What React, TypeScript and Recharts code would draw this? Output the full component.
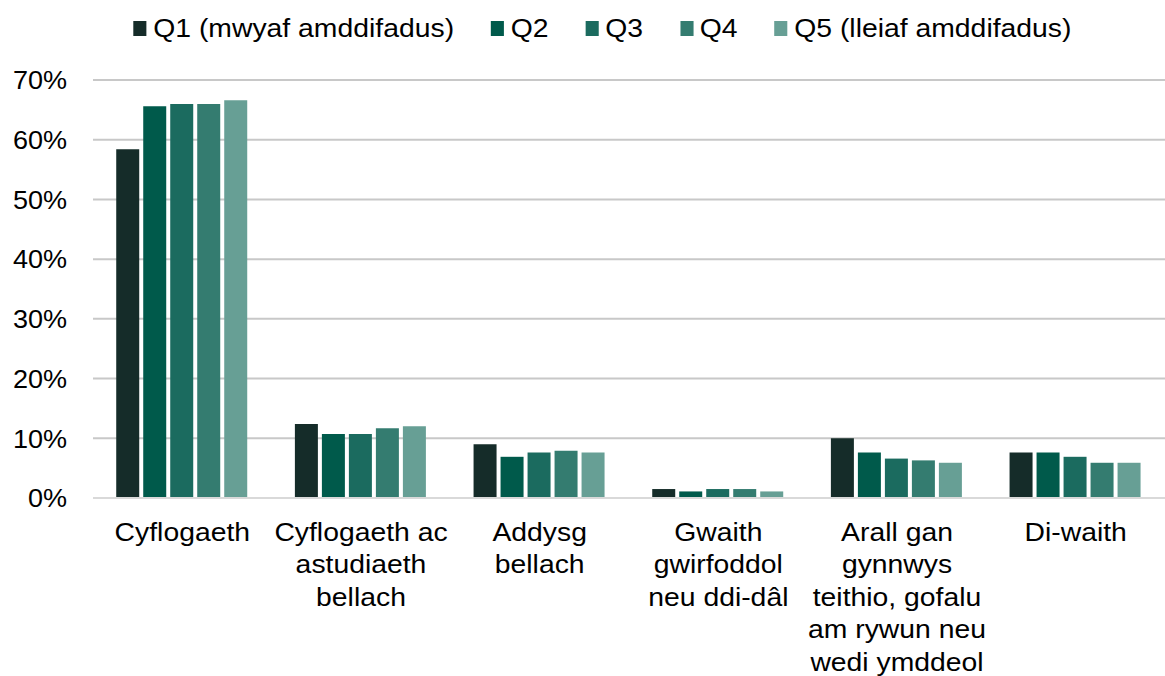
import React from "react";
import { BarChart, Bar, XAxis, YAxis, CartesianGrid, Legend } from "recharts";

const categories: string[][] = [
  ["Cyflogaeth"],
  ["Cyflogaeth ac", "astudiaeth", "bellach"],
  ["Addysg", "bellach"],
  ["Gwaith", "gwirfoddol", "neu ddi-dâl"],
  ["Arall gan", "gynnwys", "teithio, gofalu", "am rywun neu", "wedi ymddeol"],
  ["Di-waith"],
];

const q1 = [58.4, 12.4, 9.0, 1.5, 10.0, 7.6];
const q2 = [65.6, 10.7, 6.9, 1.1, 7.6, 7.6];
const q3 = [66.0, 10.7, 7.6, 1.5, 6.6, 6.9];
const q4 = [66.0, 11.7, 7.9, 1.5, 6.3, 5.9];
const q5 = [66.6, 12.0, 7.6, 1.1, 5.9, 5.9];

const seriesNames = ["Q1 (mwyaf amddifadus)", "Q2", "Q3", "Q4", "Q5 (lleiaf amddifadus)"];
const seriesKeys = ["q1", "q2", "q3", "q4", "q5"];
const colors = ["#152c29", "#005a4b", "#1b6b5f", "#347c70", "#679f95"];
const yTicks = [0, 10, 20, 30, 40, 50, 60, 70];

const data = categories.map((lines, i) => ({
  name: lines.join(" "),
  lines,
  q1: q1[i],
  q2: q2[i],
  q3: q3[i],
  q4: q4[i],
  q5: q5[i],
}));

const FONT = "'Liberation Sans', Arial, sans-serif";
const SX = 1.09;

const CategoryTick = (props: any) => {
  const { x, y, payload } = props;
  const lines = categories[payload.index] || [payload.value];
  return (
    <g transform={`translate(${x},${y + 43}) scale(${SX},1)`}>
      <text x={0} y={0} textAnchor="middle" fontSize={26} fontFamily={FONT} fill="#000">
        {lines.map((l: string, i: number) => (
          <tspan key={i} x={0} dy={i === 0 ? 0 : 32.5}>
            {l}
          </tspan>
        ))}
      </text>
    </g>
  );
};

const ValueTick = (props: any) => {
  const { x, y, payload } = props;
  return (
    <g transform={`translate(${x},${y}) scale(1.04,1)`}>
      <text x={0} y={0} dy="0.355em" textAnchor="end" fontSize={26} fontFamily={FONT} fill="#000">
        {`${payload.value}%`}
      </text>
    </g>
  );
};

const LegendContent = () => (
  <div
    style={{
      height: 75,
      boxSizing: "border-box",
      paddingTop: 8,
      display: "flex",
      justifyContent: "center",
      fontFamily: FONT,
      fontSize: 26,
      color: "#000",
      paddingLeft: 40,
      transform: `scaleX(${SX})`,
      transformOrigin: "602px 0",
    }}
  >
    {seriesNames.map((n, i) => (
      <div key={n} style={{ display: "flex", alignItems: "center", height: 30, marginRight: i < 4 ? 34 : 0 }}>
        <span style={{ display: "inline-block", width: 12, height: 15, background: colors[i], marginRight: 6 }} />
        <span>{n}</span>
      </div>
    ))}
  </div>
);

export default function App() {
  return (
    <div style={{ position: "absolute", left: 0, top: 0, width: 1165, height: 676, background: "#fff" }}>
      <BarChart
        width={1165}
        height={676}
        data={data}
        margin={{ top: 5, right: 0, left: 0, bottom: 0 }}
        barCategoryGap="13%"
        barGap={4}
      >
        <CartesianGrid vertical={false} stroke="#c8c8c8" strokeWidth={2} />
        <Legend verticalAlign="top" content={<LegendContent />} />
        <XAxis
          dataKey="name"
          height={178}
          tickLine={false}
          axisLine={{ stroke: "#d9d9d9", strokeWidth: 2 }}
          tickSize={0}
          tickMargin={0}
          interval={0}
          tick={<CategoryTick />}
        />
        <YAxis
          width={93}
          domain={[0, 70]}
          ticks={yTicks}
          axisLine={false}
          tickLine={false}
          tickSize={0}
          tickMargin={26}
          tick={<ValueTick />}
          interval={0}
        />
        {seriesKeys.map((k, i) => (
          <Bar key={k} dataKey={k} name={seriesNames[i]} fill={colors[i]} isAnimationActive={false} />
        ))}
      </BarChart>
    </div>
  );
}
